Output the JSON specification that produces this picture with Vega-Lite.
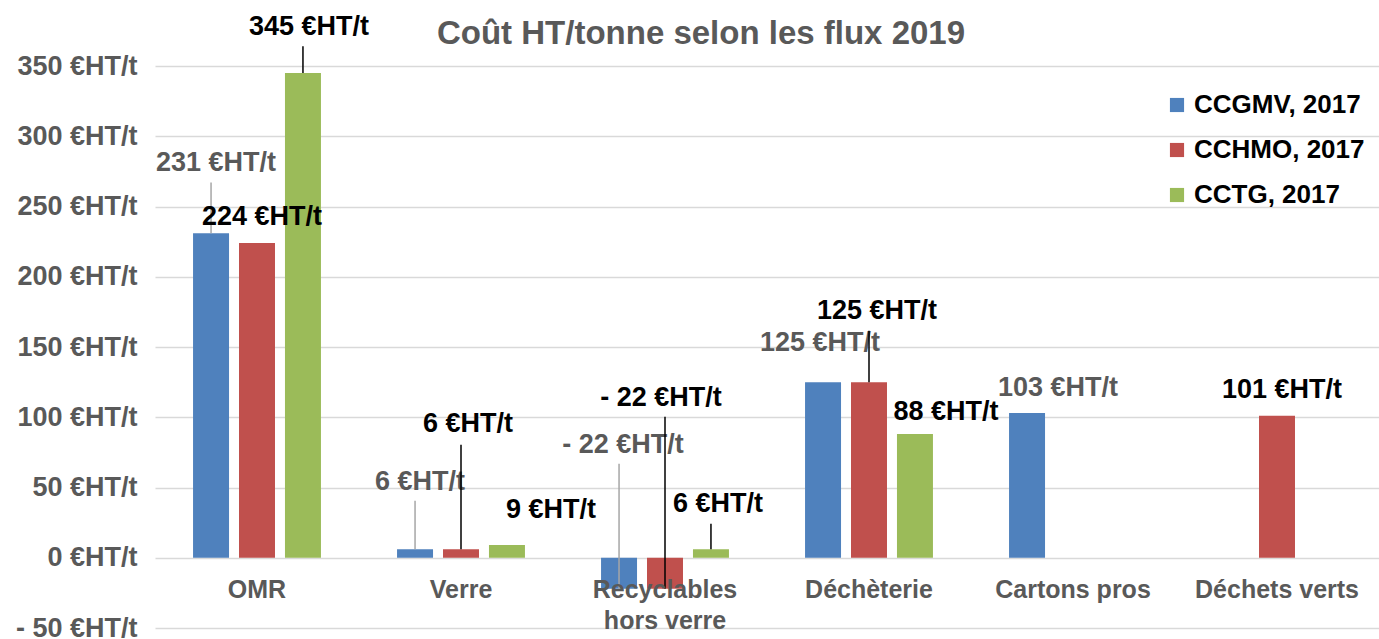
{
  "$schema": "https://vega.github.io/schema/vega-lite/v6.json",
  "autosize": "none",
  "width": 1224,
  "height": 562,
  "padding": {"left": 155, "top": 66, "right": 0, "bottom": 11},
  "config": {
    "font": "Liberation Sans",
    "view": {"stroke": null},
    "text": {"font": "Liberation Sans", "fontWeight": "bold", "fontSize": 27, "align": "center", "baseline": "middle"}
  },
  "title": {
    "text": "Coût HT/tonne selon les flux 2019",
    "font": "Liberation Sans",
    "fontSize": 33,
    "fontWeight": "bold",
    "color": "#595959",
    "anchor": "middle",
    "dx": -66,
    "dy": 60,
    "offset": 22
  },
  "data": {
    "values": [
      {"cat": "OMR", "series": "CCGMV, 2017", "v": 231},
      {"cat": "OMR", "series": "CCHMO, 2017", "v": 224},
      {"cat": "OMR", "series": "CCTG, 2017", "v": 345},
      {"cat": "Verre", "series": "CCGMV, 2017", "v": 6},
      {"cat": "Verre", "series": "CCHMO, 2017", "v": 6},
      {"cat": "Verre", "series": "CCTG, 2017", "v": 9},
      {"cat": "Recyclables hors verre", "series": "CCGMV, 2017", "v": -22},
      {"cat": "Recyclables hors verre", "series": "CCHMO, 2017", "v": -22},
      {"cat": "Recyclables hors verre", "series": "CCTG, 2017", "v": 6},
      {"cat": "Déchèterie", "series": "CCGMV, 2017", "v": 125},
      {"cat": "Déchèterie", "series": "CCHMO, 2017", "v": 125},
      {"cat": "Déchèterie", "series": "CCTG, 2017", "v": 88},
      {"cat": "Cartons pros", "series": "CCGMV, 2017", "v": 103},
      {"cat": "Déchets verts", "series": "CCHMO, 2017", "v": 101}
    ]
  },
  "transform": [
    {"calculate": "(datum.v < 0 ? '- ' + abs(datum.v) : '' + datum.v) + ' €HT/t'", "as": "label"}
  ],
  "encoding": {
    "x": {
      "field": "cat",
      "type": "nominal",
      "sort": ["OMR", "Verre", "Recyclables hors verre", "Déchèterie", "Cartons pros", "Déchets verts"],
      "scale": {"paddingInner": 0.373, "paddingOuter": 0.1865},
      "axis": {
        "title": null,
        "offset": -70,
        "domain": false,
        "ticks": false,
        "labelAngle": 0,
        "labelFont": "Liberation Sans",
        "labelFontSize": 25,
        "labelFontWeight": "bold",
        "labelColor": "#595959",
        "labelPadding": 19,
        "labelLineHeight": 31,
        "zindex": 1,
        "labelExpr": "datum.label == 'Recyclables hors verre' ? ['Recyclables', 'hors verre'] : datum.label"
      }
    },
    "xOffset": {
      "field": "series",
      "type": "nominal",
      "sort": ["CCGMV, 2017", "CCHMO, 2017", "CCTG, 2017"],
      "scale": {"paddingInner": 0.217}
    },
    "y": {
      "field": "v",
      "type": "quantitative",
      "scale": {"domain": [-50, 350], "nice": false, "zero": false},
      "axis": {
        "title": null,
        "values": [-50, 0, 50, 100, 150, 200, 250, 300, 350],
        "domain": false,
        "ticks": false,
        "gridColor": "#d9d9d9",
        "gridWidth": 1.5,
        "labelFont": "Liberation Sans",
        "labelFontSize": 27,
        "labelFontWeight": "bold",
        "labelColor": "#595959",
        "labelPadding": 18,
        "labelExpr": "(datum.value < 0 ? '- ' + abs(datum.value) : '' + datum.value) + ' €HT/t'"
      }
    }
  },
  "layer": [
    {
      "mark": {"type": "bar"},
      "encoding": {
        "color": {
          "field": "series",
          "type": "nominal",
          "scale": {"domain": ["CCGMV, 2017", "CCHMO, 2017", "CCTG, 2017"], "range": ["#4F81BD", "#C0504D", "#9BBB59"]},
          "legend": {
            "title": null,
            "orient": "none",
            "legendX": 1009,
            "legendY": 26,
            "symbolType": "square",
            "symbolSize": 200,
            "symbolStrokeWidth": 0,
            "labelFont": "Liberation Sans",
            "labelFontSize": 26,
            "labelFontWeight": "bold",
            "labelColor": "#000000",
            "labelOffset": 4,
            "rowPadding": 19,
            "labelLimit": 300
          }
        }
      }
    },
    {
      "transform": [{"filter": "datum.cat == 'OMR' && datum.series == 'CCGMV, 2017'"}],
      "layer": [
        {"mark": {"type": "rule", "color": "#a6a6a6", "strokeWidth": 1.5}, "encoding": {"y2": {"datum": 267}}},
        {"mark": {"type": "text", "dx": 5, "dy": -70, "color": "#595959"}, "encoding": {"text": {"field": "label"}}}
      ]
    },
    {
      "transform": [{"filter": "(datum.cat == 'OMR' && datum.series == 'CCHMO, 2017') || datum.cat == 'Déchets verts'"}],
      "mark": {"type": "text", "dx": 5, "dy": -26, "color": "#000000"},
      "encoding": {"text": {"field": "label"}}
    },
    {
      "transform": [{"filter": "datum.cat == 'OMR' && datum.series == 'CCTG, 2017'"}],
      "layer": [
        {"mark": {"type": "rule", "color": "#000000", "strokeWidth": 1.5}, "encoding": {"y2": {"datum": 364}}},
        {"mark": {"type": "text", "dx": 6, "dy": -46, "color": "#000000"}, "encoding": {"text": {"field": "label"}}}
      ]
    },
    {
      "transform": [{"filter": "datum.cat == 'Verre' && datum.series == 'CCGMV, 2017'"}],
      "layer": [
        {"mark": {"type": "rule", "color": "#a6a6a6", "strokeWidth": 1.5}, "encoding": {"y2": {"datum": 40.6}}},
        {"mark": {"type": "text", "dx": 5, "dy": -67, "color": "#595959"}, "encoding": {"text": {"field": "label"}}}
      ]
    },
    {
      "transform": [{"filter": "datum.cat == 'Verre' && datum.series == 'CCHMO, 2017'"}],
      "layer": [
        {"mark": {"type": "rule", "color": "#000000", "strokeWidth": 1.5}, "encoding": {"y2": {"datum": 80.4}}},
        {"mark": {"type": "text", "dx": 7, "dy": -125, "color": "#000000"}, "encoding": {"text": {"field": "label"}}}
      ]
    },
    {
      "transform": [{"filter": "datum.cat == 'Verre' && datum.series == 'CCTG, 2017'"}],
      "mark": {"type": "text", "dx": 44, "dy": -35, "color": "#000000"},
      "encoding": {"text": {"field": "label"}}
    },
    {
      "transform": [{"filter": "datum.cat == 'Recyclables hors verre' && datum.series == 'CCGMV, 2017'"}],
      "layer": [
        {"mark": {"type": "rule", "color": "#a6a6a6", "strokeWidth": 1.5}, "encoding": {"y2": {"datum": 66.9}}},
        {"mark": {"type": "text", "dx": 4, "dy": -144, "color": "#595959"}, "encoding": {"text": {"field": "label"}}}
      ]
    },
    {
      "transform": [{"filter": "datum.cat == 'Recyclables hors verre' && datum.series == 'CCHMO, 2017'"}],
      "layer": [
        {"mark": {"type": "rule", "color": "#000000", "strokeWidth": 1.5}, "encoding": {"y2": {"datum": 100.4}}},
        {"mark": {"type": "text", "dx": -4, "dy": -191, "color": "#000000"}, "encoding": {"text": {"field": "label"}}}
      ]
    },
    {
      "transform": [{"filter": "datum.cat == 'Recyclables hors verre' && datum.series == 'CCTG, 2017'"}],
      "layer": [
        {"mark": {"type": "rule", "color": "#000000", "strokeWidth": 1.5}, "encoding": {"y2": {"datum": 24.2}}},
        {"mark": {"type": "text", "dx": 7, "dy": -45, "color": "#000000"}, "encoding": {"text": {"field": "label"}}}
      ]
    },
    {
      "transform": [{"filter": "datum.cat == 'Déchèterie' && datum.series == 'CCGMV, 2017'"}],
      "mark": {"type": "text", "dx": -3, "dy": -39, "color": "#595959"},
      "encoding": {"text": {"field": "label"}}
    },
    {
      "transform": [{"filter": "datum.cat == 'Déchèterie' && datum.series == 'CCHMO, 2017'"}],
      "layer": [
        {"mark": {"type": "rule", "color": "#000000", "strokeWidth": 1.5}, "encoding": {"y2": {"datum": 161.6}}},
        {"mark": {"type": "text", "dx": 8, "dy": -71, "color": "#000000"}, "encoding": {"text": {"field": "label"}}}
      ]
    },
    {
      "transform": [{"filter": "datum.cat == 'Déchèterie' && datum.series == 'CCTG, 2017'"}],
      "mark": {"type": "text", "dx": 31, "dy": -22, "color": "#000000"},
      "encoding": {"text": {"field": "label"}}
    },
    {
      "transform": [{"filter": "datum.cat == 'Cartons pros'"}],
      "mark": {"type": "text", "dx": 31, "dy": -25, "color": "#595959"},
      "encoding": {"text": {"field": "label"}}
    }
  ]
}
